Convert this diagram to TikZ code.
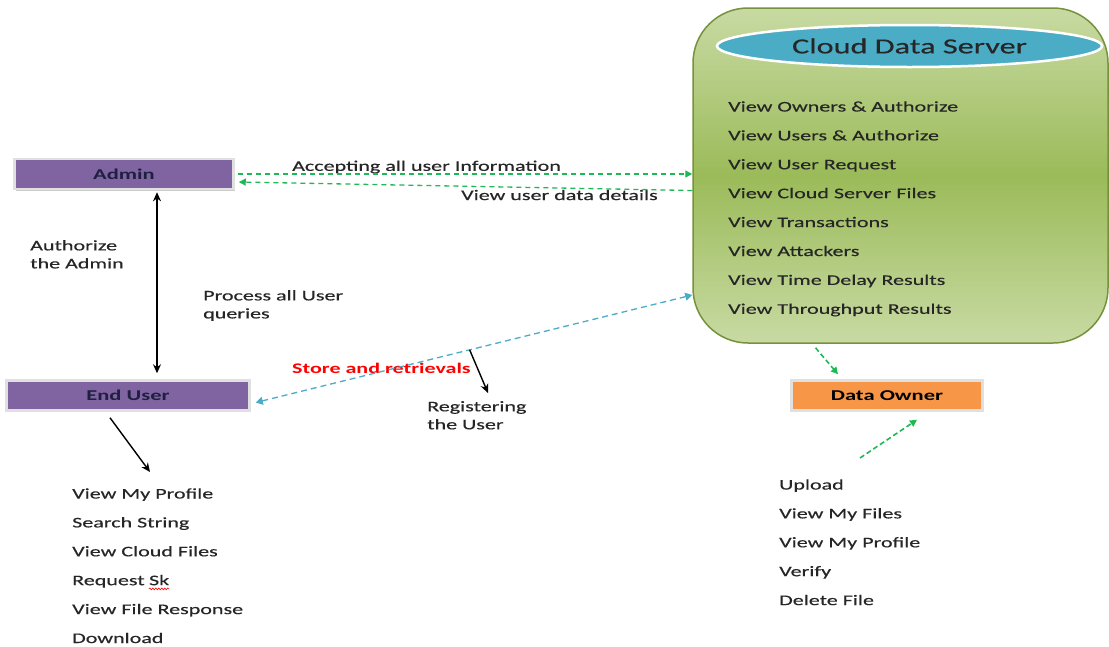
\documentclass[tikz,border=0pt]{standalone}
\usepackage{fontspec}
\setmainfont{Carlito}[FakeStretch=1.5, UprightFeatures={FakeBold=0.35}]
\usetikzlibrary{positioning,arrows.meta,shapes.geometric,shadows,decorations.pathmorphing}

\definecolor{srvgreen}{HTML}{9BBB59}
\definecolor{srvlight}{HTML}{C8DAA3}
\definecolor{srvedge}{HTML}{76923C}
\definecolor{srvblue}{HTML}{4BACC6}
\definecolor{rolepurple}{HTML}{8064A2}
\definecolor{roleorange}{HTML}{F79646}
\definecolor{lnkgreen}{HTML}{1DB954}
\definecolor{lnkblue}{HTML}{4BACC6}
\definecolor{rolenavy}{HTML}{1F1F3F}

\begin{document}
\begin{tikzpicture}[
  x=1pt, y=-1pt,
  node distance = 15.5pt and 4pt,
  txt/.style     = {font=\fontsize{14.7}{18}\selectfont, text=black!85,
                    align=left, inner sep=0pt},
  item/.style    = {txt, text height=10pt, text depth=3pt},
  role/.style    = {draw=black!12, line width=2.5pt, minimum height=30pt,
                    font=\fontsize{15}{18}\selectfont\bfseries, text=rolenavy,
                    drop shadow={shadow xshift=1.5pt, shadow yshift=-1.5pt,
                                 fill=black!40, opacity=0.5}},
  server/.style  = {draw=srvedge, line width=1.5pt, rounded corners=55pt,
                    top color=srvlight, bottom color=srvlight,
                    middle color=srvgreen},
  title/.style   = {ellipse, draw=white, line width=2.5pt, fill=srvblue,
                    font=\fontsize{21.5}{24}\selectfont, text=black!85},
  garr/.style    = {-{Triangle[length=7pt,width=7pt]}, lnkgreen,
                    line width=1.3pt, dash pattern=on 5pt off 4pt},
  barr/.style    = {{Triangle[length=7pt,width=8pt]}-{Triangle[length=7pt,width=8pt]},
                    lnkblue, line width=1.3pt, dash pattern=on 6pt off 4pt},
  karr/.style    = {-{Stealth[length=9pt,width=8pt]}, black, line width=1.4pt},
]
\useasboundingbox (0,0) rectangle (1109,646);

% ---- cloud data server ----
\node[server, minimum width=415pt, minimum height=335pt] (cds) at (900.5,175.5) {};
\node[title, minimum width=385pt, minimum height=42pt] (ttl) at (909.5,46) {Cloud Data Server};

\node[item, anchor=west] (own) at (728,108) {View Owners \& Authorize};
\node[item, below=of own.south west, anchor=north west] (usr)  {View Users \& Authorize};
\node[item, below=of usr.south west, anchor=north west] (ureq) {View User Request};
\node[item, below=of ureq.south west, anchor=north west] (csf) {View Cloud Server Files};
\node[item, below=of csf.south west, anchor=north west] (trn)  {View Transactions};
\node[item, below=of trn.south west, anchor=north west] (att)  {View Attackers};
\node[item, below=of att.south west, anchor=north west] (tdr)  {View Time Delay Results};
\node[item, below=of tdr.south west, anchor=north west] (thr)  {View Throughput Results};

% ---- roles ----
\node[role, fill=rolepurple, minimum width=219pt] (admin) at (124,174) {Admin};
\node[role, fill=rolepurple, minimum width=243pt] (eu)    at (128,395.5) {End User};
\node[role, fill=roleorange, minimum width=191pt, text=black] (do) at (887,395.5) {Data Owner};

% ---- end user menu ----
\node[item, anchor=west] (prof) at (72,495) {View My Profile};
\node[item, below=of prof.south west, anchor=north west] (srch) {Search String};
\node[item, below=of srch.south west, anchor=north west] (vcf)  {View Cloud Files};
\node[item, below=of vcf.south west, anchor=north west] (req)   {Request};
\node[item, right=of req] (sk) {Sk};
\node[item, below=of req.south west, anchor=north west] (fres)  {View File Response};
\node[item, below=of fres.south west, anchor=north west] (dl)   {Download};
\draw[red, line width=0.6pt, decorate,
      decoration={snake, amplitude=0.9pt, segment length=3pt}]
  ([yshift=-0.5pt]sk.south west) -- ([yshift=-0.5pt]sk.south east);

% ---- data owner menu ----
\node[item, anchor=west] (upl) at (779,486) {Upload};
\node[item, below=of upl.south west, anchor=north west] (myf)  {View My Files};
\node[item, below=of myf.south west, anchor=north west] (myp)  {View My Profile};
\node[item, below=of myp.south west, anchor=north west] (ver)  {Verify};
\node[item, below=of ver.south west, anchor=north west] (delf) {Delete File};

% ---- edge labels ----
\node[txt, anchor=north west] (authl) at (30,240) {Authorize\\the Admin};
\node[txt, anchor=north west] (procl) at (203,290) {Process all User\\queries};
\node[txt, anchor=west] (accl) at (292,167) {Accepting all user Information};
\node[txt, anchor=west] (viewl) at (461,195) {View user data details};
\node[txt, anchor=west, text=red, font=\fontsize{14.7}{18}\selectfont\bfseries] (storel) at (292,368) {Store and retrievals};
\node[txt, anchor=north west] (regl) at (427,401) {Registering\\the User};

% ---- free ends ----
\coordinate (regend) at (488,393);
\coordinate (euend) at (150,472);
\coordinate (dostart) at (860,458);

% ---- edges ----
\draw[karr, {Stealth[length=9pt,width=8pt]}-{Stealth[length=9pt,width=8pt]}] ([xshift=33pt,yshift=-2pt]admin.south) -- ([xshift=29pt,yshift=6pt]eu.north);
\draw[garr] ([xshift=3pt]admin.east) -- (admin.east -| cds.west);
\draw[garr] ([yshift=-15pt]cds.west) -- ([xshift=4pt,yshift=-8pt]admin.east);
\draw[barr] ([xshift=5pt,yshift=-7pt]eu.east) -- coordinate[pos=0.49] (regpt) ([yshift=-119.5pt]cds.west);
\draw[karr] (regpt) -- (regend);
\draw[karr] ([xshift=-18pt,yshift=-6pt]eu.south) -- (euend);
\draw[garr, line width=1.6pt, dash pattern=on 5pt off 3pt] ([xshift=-85pt,yshift=-4pt]cds.south) -- ([xshift=-49pt,yshift=5pt]do.north);
\draw[garr, line width=1.6pt, dash pattern=on 5pt off 3pt] (dostart) -- ([xshift=30pt,yshift=-8pt]do.south);

\end{tikzpicture}
\end{document}
